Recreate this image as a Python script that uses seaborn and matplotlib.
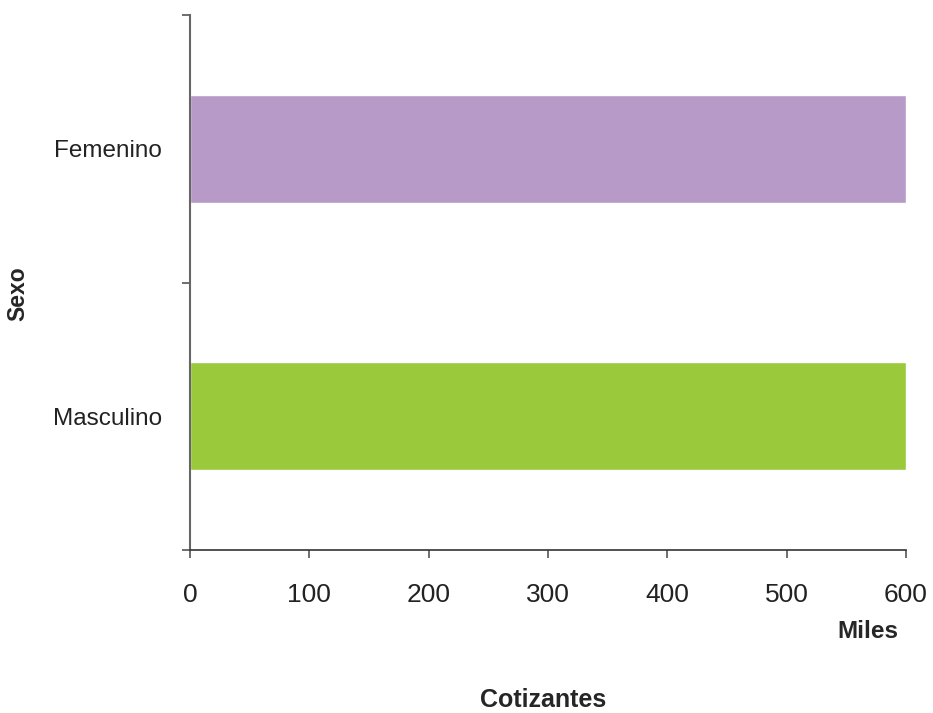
import matplotlib
matplotlib.use("Agg")
import matplotlib.pyplot as plt
import seaborn as sns
import pandas as pd

categorias = ["Femenino", "Masculino"]
cotizantes_miles = [600, 600]
colores = ["#B79AC8", "#9ACA3C"]
x_ticks = [0, 100, 200, 300, 400, 500, 600]

sns.set_theme(style="white")
plt.rcParams["font.family"] = ["Liberation Sans", "DejaVu Sans"]

df = pd.DataFrame({"Sexo": categorias, "Cotizantes": cotizantes_miles})

fig = plt.figure(figsize=(9.33, 7.13), dpi=100)
ax = fig.add_axes([190/933, 1-550/713, (906-190)/933, (550-15)/713])

sns.barplot(data=df, y="Sexo", x="Cotizantes", hue="Sexo", palette=colores,
            orient="h", width=0.405, legend=False, ax=ax, saturation=1)

ax.set_xlim(0, 600)
ax.set_ylim(1.5, -0.5)
ax.set_xticks(x_ticks)
ax.set_xticklabels([str(v) for v in x_ticks], fontsize=19, color="#222222")
ax.set_yticks([0, 1])
ax.set_yticklabels(categorias, fontsize=17.5, color="#222222")
ax.set_yticks([-0.5, 0.5, 1.5], minor=True)
ax.tick_params(axis="y", which="major", length=0, pad=20)
ax.tick_params(axis="y", which="minor", length=6, width=1.2, color="#555555", left=True)
ax.tick_params(axis="x", which="major", length=6, width=1.2, color="#555555", bottom=True, pad=18)

for s in ["top", "right"]:
    ax.spines[s].set_visible(False)
ax.spines["left"].set_color("#666666")
ax.spines["left"].set_linewidth(1.5)
ax.spines["bottom"].set_color("#333333")
ax.spines["bottom"].set_linewidth(1.2)

ax.set_xlabel("")
ax.set_ylabel("")
fig.text(898/933, 1-632/713, "Miles", ha="right", va="center", fontsize=17.5, fontweight="bold")
fig.text(543/933, 1-700/713, "Cotizantes", ha="center", va="center", fontsize=18, fontweight="bold")
fig.text(18/933, 1-294/713, "Sexo", ha="center", va="center", rotation=90, fontsize=16.5, fontweight="bold")

fig.savefig("out.png", dpi=100)
